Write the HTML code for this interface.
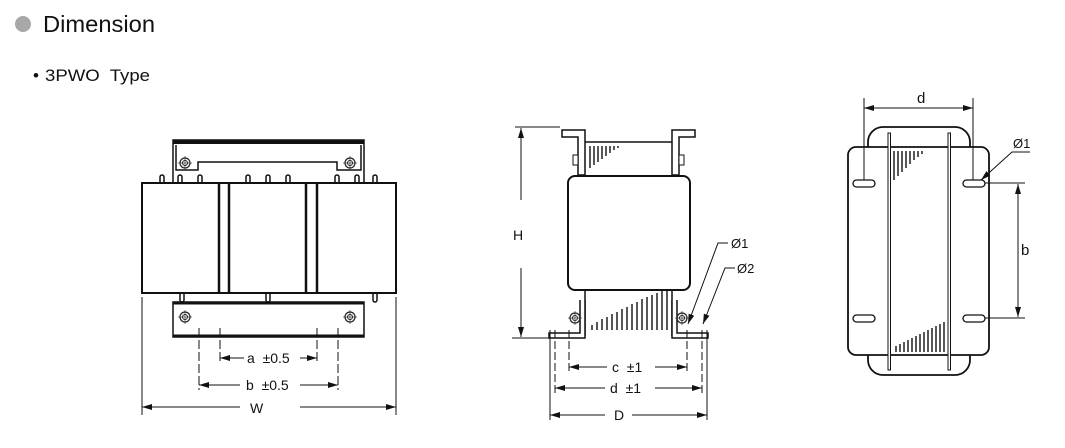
<!DOCTYPE html>
<html><head><meta charset="utf-8"><style>
html,body{margin:0;padding:0;background:#fff;width:1065px;height:448px;overflow:hidden}
svg{display:block}
text{font-family:"Liberation Sans",sans-serif;fill:#111;white-space:pre}
</style></head><body>
<svg width="1065" height="448" viewBox="0 0 1065 448" xmlns="http://www.w3.org/2000/svg">
<defs>
<marker id="ar" viewBox="0 0 10 6" refX="10" refY="3" markerWidth="10" markerHeight="6" orient="auto-start-reverse" markerUnits="userSpaceOnUse"><path d="M0,0L10,3L0,6z" fill="#111"/></marker>
<g id="bolt"><circle r="5" fill="none" stroke="#222" stroke-width="1.2"/><circle r="2.5" fill="none" stroke="#222" stroke-width="1"/><line x1="-7" y1="0" x2="7" y2="0" stroke="#222" stroke-width=".6"/><line x1="0" y1="-7" x2="0" y2="7" stroke="#222" stroke-width=".6"/></g>
<g id="pin"><path d="M-2,8V2a2,2 0 0 1 4,0V8" fill="none" stroke="#111" stroke-width="1.5"/></g>
<g id="pinb"><path d="M-2,0V7a2,2 0 0 0 4,0V0" fill="none" stroke="#111" stroke-width="1.5"/></g>
</defs>
<circle cx="23" cy="24" r="8" fill="#a8a8a8"/>
<text x="43" y="32" font-size="23" textLength="112" lengthAdjust="spacingAndGlyphs">Dimension</text>
<text x="33" y="81" font-size="17">•</text>
<text x="45" y="81" font-size="17" textLength="105" lengthAdjust="spacingAndGlyphs">3PWO  Type</text>

<!-- FRONT VIEW -->
<g stroke="#111" fill="none" stroke-width="1.5">
<rect x="173" y="140" width="191" height="43"/>
<line x1="173" y1="142" x2="364" y2="142" stroke-width="4"/>
<polyline points="176,145 176,170 198,170 198,162 337,162 337,170 361,170 361,145"/>
<use href="#pin" x="162" y="175"/><use href="#pin" x="180" y="175"/><use href="#pin" x="200" y="175"/>
<use href="#pin" x="248" y="175"/><use href="#pin" x="268" y="175"/><use href="#pin" x="288" y="175"/>
<use href="#pin" x="337" y="175"/><use href="#pin" x="357" y="175"/><use href="#pin" x="375" y="175"/>
<rect x="142" y="183" width="254" height="110" fill="#fff" stroke-width="2"/>
<line x1="219" y1="183" x2="219" y2="293" stroke-width="2.5"/>
<line x1="229" y1="183" x2="229" y2="293" stroke-width="2.5"/>
<line x1="306" y1="183" x2="306" y2="293" stroke-width="2.5"/>
<line x1="317" y1="183" x2="317" y2="293" stroke-width="2.5"/>
<use href="#pinb" x="182" y="293"/><use href="#pinb" x="268" y="293"/><use href="#pinb" x="375" y="293"/>
<rect x="173" y="302" width="191" height="35"/>
<line x1="173" y1="303" x2="364" y2="303" stroke-width="3"/>
<line x1="173" y1="336" x2="364" y2="336" stroke-width="3"/>
</g>
<use href="#bolt" x="185" y="163"/><use href="#bolt" x="350" y="163"/>
<use href="#bolt" x="185" y="317"/><use href="#bolt" x="350" y="317"/>
<g stroke="#111" stroke-width="1" fill="none">
<line x1="199" y1="328" x2="199" y2="390" stroke-dasharray="9,3"/>
<line x1="220" y1="328" x2="220" y2="364" stroke-dasharray="9,3"/>
<line x1="317" y1="328" x2="317" y2="364" stroke-dasharray="9,3"/>
<line x1="338" y1="328" x2="338" y2="390" stroke-dasharray="9,3"/>
<line x1="142" y1="297" x2="142" y2="415"/>
<line x1="396" y1="297" x2="396" y2="415"/>
<line x1="220" y1="358" x2="244" y2="358" marker-start="url(#ar)"/>
<line x1="300" y1="358" x2="317" y2="358" marker-end="url(#ar)"/>
<line x1="199" y1="385" x2="240" y2="385" marker-start="url(#ar)"/>
<line x1="300" y1="385" x2="338" y2="385" marker-end="url(#ar)"/>
<line x1="142" y1="407" x2="240" y2="407" marker-start="url(#ar)"/>
<line x1="300" y1="407" x2="396" y2="407" marker-end="url(#ar)"/>
</g>
<text x="247" y="363" font-size="14">a  ±0.5</text>
<text x="246" y="390" font-size="14">b  ±0.5</text>
<text x="250" y="413" font-size="14">W</text>

<!-- SIDE VIEW -->
<g stroke="#111" fill="none" stroke-width="1.5">
<line x1="515" y1="127" x2="560" y2="127" stroke-width="1"/>
<line x1="512" y1="338" x2="550" y2="338" stroke-width="1"/>
<line x1="521" y1="128" x2="521" y2="200" stroke-width="1" marker-start="url(#ar)"/>
<line x1="521" y1="268" x2="521" y2="337" stroke-width="1" marker-end="url(#ar)"/>
<path d="M562,130H585V175H578V137H562Z" fill="#fff"/>
<path d="M695,130H672V175H679V137H695Z" fill="#fff"/>
<line x1="585" y1="142" x2="672" y2="142"/>
<rect x="568" y="176" width="122" height="114" rx="7" fill="#fff" stroke-width="2"/>
<line x1="585" y1="290" x2="585" y2="336"/><line x1="672" y1="290" x2="672" y2="336"/>
<path d="M580,300V333H549V338H585V300" fill="#fff"/>
<path d="M677,300V333H708V338H672V300" fill="#fff"/>
</g>
<g stroke="#111" stroke-width="1.4">
<path d="M590,168V146M594,165V146M598,162V146M602,159V146M606,156V146M610,153V146M614,150V146M618,148V146"/>
<path d="M592,330V325M597,330V322M602,330V319M607,330V317M612,330V314M617,330V312M622,330V309M627,330V307M632,330V304M637,330V302M642,330V299M647,330V297M652,330V295M657,330V293M662,330V291M667,330V290"/>
</g>
<use href="#bolt" x="575" y="318"/><use href="#bolt" x="682" y="318"/>
<g stroke="#111" stroke-width="1" fill="none">
<rect x="573" y="155" width="5" height="10" fill="#fff"/><rect x="679" y="155" width="5" height="10" fill="#fff"/>
<line x1="550" y1="330" x2="550" y2="420"/>
<line x1="555" y1="330" x2="555" y2="395" stroke-dasharray="8,3"/>
<line x1="569" y1="330" x2="569" y2="372" stroke-dasharray="8,3"/>
<line x1="687" y1="330" x2="687" y2="372" stroke-dasharray="8,3"/>
<line x1="702" y1="330" x2="702" y2="395" stroke-dasharray="8,3"/>
<line x1="707" y1="330" x2="707" y2="420"/>
<line x1="569" y1="367" x2="607" y2="367" marker-start="url(#ar)"/>
<line x1="655" y1="367" x2="687" y2="367" marker-end="url(#ar)"/>
<line x1="555" y1="388" x2="605" y2="388" marker-start="url(#ar)"/>
<line x1="655" y1="388" x2="702" y2="388" marker-end="url(#ar)"/>
<line x1="550" y1="415" x2="605" y2="415" marker-start="url(#ar)"/>
<line x1="632" y1="415" x2="707" y2="415" marker-end="url(#ar)"/>
<polyline points="728,243 718,243 688,324" marker-end="url(#ar)"/>
<polyline points="735,268 725,268 703,324" marker-end="url(#ar)"/>
</g>
<text x="612" y="372" font-size="14">c  ±1</text>
<text x="610" y="393" font-size="14">d  ±1</text>
<text x="614" y="420" font-size="14">D</text>
<text x="513" y="240" font-size="14">H</text>
<text x="731" y="248" font-size="13">Ø1</text>
<text x="737" y="273" font-size="13">Ø2</text>

<!-- TOP VIEW -->
<g stroke="#111" fill="none" stroke-width="1.8">
<path d="M868,147V142a15,15 0 0 1 15,-15H955a15,15 0 0 1 15,15V147"/>
<path d="M868,355V360a15,15 0 0 0 15,15H955a15,15 0 0 0 15,-15V355"/>
<rect x="848" y="147" width="141" height="208" rx="8" fill="#fff"/>
<rect x="888" y="133" width="2.5" height="237" stroke-width="1" fill="#fff"/>
<rect x="948" y="133" width="2.5" height="237" stroke-width="1" fill="#fff"/>
<rect x="853" y="180" width="22" height="7" rx="3.5" stroke-width="1.3"/>
<rect x="963" y="180" width="22" height="7" rx="3.5" stroke-width="1.3"/>
<rect x="853" y="315" width="22" height="7" rx="3.5" stroke-width="1.3"/>
<rect x="963" y="315" width="22" height="7" rx="3.5" stroke-width="1.3"/>
</g>
<g stroke="#111" stroke-width="1.4">
<path d="M894,180V151M898,176V151M902,172V151M906,168V151M910,164V151M914,160V151M918,157V151M922,154V151"/>
<path d="M896,352V346M900,352V344M904,352V342M908,352V340M912,352V338M916,352V336M920,352V334M924,352V332M928,352V330M932,352V328M936,352V326M940,352V324M944,352V322"/>
</g>
<g stroke="#111" stroke-width="1" fill="none">
<line x1="864" y1="98" x2="864" y2="180"/>
<line x1="973" y1="98" x2="973" y2="180"/>
<line x1="864" y1="108" x2="973" y2="108" marker-start="url(#ar)" marker-end="url(#ar)"/>
<line x1="985" y1="183" x2="1025" y2="183"/>
<line x1="985" y1="318" x2="1025" y2="318"/>
<line x1="1018" y1="184" x2="1018" y2="317" marker-start="url(#ar)" marker-end="url(#ar)"/>
<polyline points="1030,152 1012,152 981,180" marker-end="url(#ar)"/>
</g>
<text x="917" y="103" font-size="15">d</text>
<text x="1021" y="255" font-size="15">b</text>
<text x="1013" y="148" font-size="13">Ø1</text>
</svg>
</body></html>
